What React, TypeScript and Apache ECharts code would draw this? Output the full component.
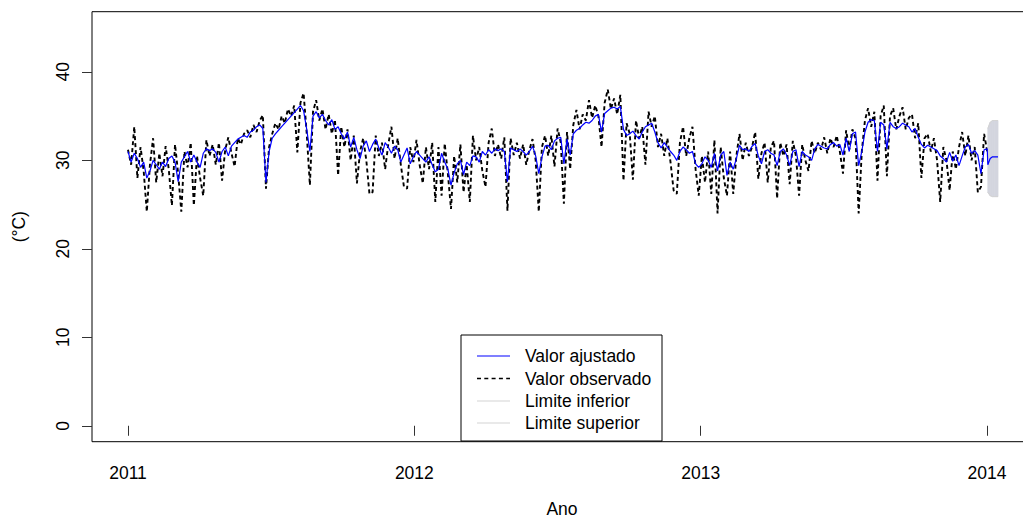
import React, { useEffect, useRef } from "react";
import * as echarts from "echarts";

// ---- data (4-day steps starting 2011-01-01) ----
const START_YEAR = 2011;
const STEP_DAYS = 4;
const yearTicks = [2011, 2012, 2013, 2014];
const yTicks = [0, 10, 20, 30, 40];

const fitted2011 = [
  31.0, 29.8, 30.8, 30.2, 29.2, 29.8, 28.0, 28.8, 30.0, 29.5, 29.0, 29.8, 29.3, 30.2, 30.5, 29.8, 27.6, 29.8, 30.4, 31.0, 29.8, 30.6, 29.8,
  29.2, 30.8, 31.3, 31.1, 31.3, 30.9, 29.8, 31.0, 31.5, 30.5, 31.6, 32.0, 32.4, 32.6, 32.8,
  32.6, 33.2, 33.4, 33.8, 34.0, 33.6,
  27.5, 31.0,
  32.5, 33.0, 33.4, 33.8, 34.2, 34.6, 35.0, 35.4, 35.8, 36.2, 35.6,
  33.5, 31.0, 35.0, 35.5,
  34.8, 35.2, 34.5, 34.0, 34.6, 33.5, 33.8, 33.0, 32.4, 33.2, 31.5, 32.6, 31.2, 30.2, 31.6,
  32.2, 31.0, 31.8, 32.4, 31.4, 30.6, 32.0, 31.5, 30.8, 31.6, 31.2, 29.8, 30.6, 31.4, 29.6, 30.4,
];
const fitted2012 = [
  31.0, 30.6, 30.2, 29.8, 30.4, 29.5, 28.7, 29.0, 30.8, 29.8, 29.0, 27.2, 28.6, 29.6, 30.0, 28.4, 29.8, 29.4,
  30.5, 30.4, 29.8, 31.0, 30.6, 31.2, 30.8, 31.3, 31.1, 31.3, 31.0, 27.6, 31.4, 31.2, 31.0, 31.3, 31.0, 30.6,
  31.0, 31.6, 30.5, 28.5, 30.4, 31.6, 31.7, 31.2, 32.2, 32.5, 32.6, 29.6, 32.4, 30.6, 33.0, 33.4, 33.6, 34.0,
  34.3, 34.2, 34.5, 35.0, 35.2, 33.2, 35.3, 35.6, 35.9, 36.0, 35.8, 36.1, 33.5, 32.8, 33.0, 33.3, 32.8, 32.4,
  33.2, 33.8, 34.0, 34.2, 33.2, 32.0, 31.4, 32.0, 31.5, 31.0, 30.6, 30.0, 31.0, 31.5, 31.2, 30.8, 31.0, 29.6,
  29.2, 29.6,
];
const fitted2013 = [
  30.4, 30.0, 29.2, 30.8, 28.8, 30.6, 31.0, 28.3, 29.8, 29.0, 30.2, 31.7, 31.2, 31.3, 31.0, 31.6, 31.9, 30.5,
  29.6, 31.0, 31.2, 30.8, 30.6, 29.4, 31.0, 31.3, 30.6, 29.4, 31.0, 31.2, 29.3, 31.0, 30.6, 30.4, 30.0, 31.3,
  31.8, 31.6, 31.4, 31.3, 31.8, 32.0, 31.6, 31.8, 30.6, 32.5, 31.0, 33.0, 33.2, 29.4, 31.0, 33.2, 34.3, 34.6,
  34.5, 31.0, 34.3, 34.0, 31.3, 34.3, 33.8, 33.6, 33.8, 34.2, 34.0, 33.8, 33.2, 33.6, 32.6, 31.8, 31.4, 31.7,
  31.5, 31.3, 31.1, 30.5, 30.2, 29.8, 30.9, 29.9, 30.6, 29.4, 30.5, 31.5, 31.8, 30.8, 31.1, 30.6, 28.5, 31.2,
  31.3,
];

const observed2011 = [
  31.2, 29.5, 33.8, 28.0, 31.5, 28.8, 24.2, 29.5, 32.5, 27.5, 30.8, 28.2, 31.6, 29.0, 24.9, 31.8, 28.5, 24.2,
  31.0, 29.2, 32.0, 24.9, 30.5, 28.0, 26.0, 32.3, 30.5, 31.8, 29.5, 32.0, 27.7, 31.2, 32.6, 30.8, 29.3, 32.5,
  31.8, 33.0, 33.4, 32.6, 34.0, 33.2, 34.5, 35.1, 26.8, 31.5, 33.0, 34.2, 33.5, 35.0, 34.2, 35.8, 35.0, 36.2,
  30.9, 36.5, 37.6, 33.0, 27.2, 35.5, 36.8, 34.5, 35.8, 33.5, 35.2, 33.0, 34.6, 28.3, 33.8, 31.5, 33.5, 30.0,
  32.8, 27.4, 31.0, 32.5, 30.0, 26.2, 26.4, 32.8, 30.5, 32.0, 29.0, 31.8, 33.8, 30.2, 32.5, 29.5, 27.0, 26.8,
  31.5, 29.8,
];
const observed2012 = [
  32.3, 29.5, 27.4, 31.5, 29.0, 32.0, 25.3, 31.5, 26.0, 31.9, 28.5, 24.5, 30.5, 27.5, 31.8, 26.4, 29.5, 25.3,
  32.8, 30.0, 31.5, 28.8, 27.0, 32.0, 33.6, 30.5, 31.8, 30.2, 32.6, 24.3, 32.5, 30.6, 32.0, 30.2, 31.8, 29.5,
  31.2, 32.4, 30.0, 24.2, 31.5, 32.8, 30.5, 32.8, 29.3, 33.6, 32.0, 25.1, 33.2, 29.0, 34.0, 35.7, 33.5, 35.2,
  34.5, 36.8, 34.8, 36.2, 35.0, 31.5, 36.5, 38.0, 35.8, 37.0, 35.2, 37.4, 27.7, 34.2, 33.0, 27.8, 34.5, 32.5,
  33.8, 29.5, 35.5, 33.8, 35.0, 31.5, 33.0, 30.5, 32.5, 29.8, 26.6, 26.2, 32.0, 33.8, 30.5, 32.5, 33.8, 29.0,
  26.0, 30.5,
];
const observed2013 = [
  27.5, 31.0, 26.2, 32.3, 24.0, 31.5, 28.0, 26.0, 31.0, 26.2, 30.5, 33.0, 30.0, 32.0, 30.5, 31.5, 33.2, 27.9,
  30.8, 32.0, 27.5, 31.5, 32.2, 25.7, 32.0, 30.5, 31.8, 27.3, 32.2, 30.5, 26.0, 31.8, 30.0, 28.8, 32.2, 30.8,
  32.0, 31.2, 32.6, 30.8, 32.5, 31.5, 32.8, 31.0, 28.5, 33.4, 31.2, 33.5, 32.5, 24.0, 31.0, 34.5, 35.9, 33.8,
  35.5, 27.7, 35.0, 36.2, 28.2, 35.0, 35.9, 33.5, 35.0, 36.0, 33.5, 34.8, 35.2, 32.5, 34.2, 28.0, 32.5, 33.0,
  31.0, 32.5, 30.0, 25.3, 31.5, 30.0, 26.6, 31.0, 29.0, 31.5, 33.2, 30.5, 32.8, 30.0, 31.5, 26.4, 27.0, 33.0,
  31.0,
];

// 15-day forecast (days after 2014-01-01)
const forecastDays = [1, 4, 7, 10, 14];
const forecastFit = [29.5, 30.2, 30.4, 30.4, 30.4];
const forecastLower = [26.4, 26.0, 25.9, 25.9, 25.9];
const forecastUpper = [33.6, 34.3, 34.5, 34.5, 34.5];

const legendLabels = ["Valor ajustado", "Valor observado", "Limite inferior", "Limite superior"];

const FONT = "'Liberation Sans', Arial, Helvetica, sans-serif";
const FS = 17.5;

export default function App() {
  const ref = useRef<HTMLDivElement>(null);

  useEffect(() => {
    if (!ref.current) return;
    const chart = echarts.init(ref.current, null, { renderer: "svg" });

    const toX = (i: number) => START_YEAR + (i * STEP_DAYS) / 365.25;
    const fitted = [...fitted2011, ...fitted2012, ...fitted2013];
    const observed = [...observed2011, ...observed2012, ...observed2013];
    const fX = forecastDays.map((d) => 2014 + d / 365.25);

    const obsData = observed.map((v, i) => [toX(i), v]);
    const fitData = fitted.map((v, i) => [toX(i), v]).concat(fX.map((x, i) => [x, forecastFit[i]]));
    const lowData = fX.map((x, i) => [x, forecastLower[i]]);
    const upData = fX.map((x, i) => [x, forecastUpper[i]]);
    const bandData = fX.map((x, i) => [x, forecastLower[i], forecastUpper[i]]);

    const legendX = 461, legendY = 335, legendW = 201, legendH = 106;
    const rowY = [356, 378.5, 401, 423];
    const legendStyles = [
      { stroke: "#0000ff", lineWidth: 1.2, lineDash: null as any },
      { stroke: "#000000", lineWidth: 1.3, lineDash: [4, 3.3] },
      { stroke: "#d3d3d3", lineWidth: 1.2, lineDash: null as any },
      { stroke: "#d3d3d3", lineWidth: 1.2, lineDash: null as any },
    ];
    const graphics: any[] = [
      {
        type: "rect",
        shape: { x: legendX, y: legendY, width: legendW, height: legendH },
        style: { fill: "#fff", stroke: "#000", lineWidth: 1 },
        z: 100,
      },
    ];
    legendLabels.forEach((lab, k) => {
      graphics.push({
        type: "line",
        shape: { x1: 477, y1: rowY[k], x2: 510, y2: rowY[k] },
        style: { stroke: legendStyles[k].stroke, lineWidth: legendStyles[k].lineWidth, lineDash: legendStyles[k].lineDash },
        z: 101,
      });
      graphics.push({
        type: "text",
        x: 525,
        y: rowY[k],
        style: { text: lab, fill: "#000", font: `${FS}px ${FONT}`, verticalAlign: "middle", align: "left" },
        z: 101,
      });
    });

    chart.setOption({
      animation: false,
      backgroundColor: "#fff",
      textStyle: { fontFamily: FONT },
      grid: {
        show: true,
        left: 92,
        right: 8,
        top: 11.7,
        bottom: 80.3,
        borderColor: "#000",
        borderWidth: 1,
        containLabel: false,
        outerBoundsMode: "none",
      },
      xAxis: {
        type: "value",
        min: 2010.8743,
        max: 2014.157,
        name: "Ano",
        nameLocation: "middle",
        nameGap: 58,
        nameTextStyle: { fontSize: FS, color: "#000", fontFamily: FONT },
        axisLine: { show: false },
        splitLine: { show: false },
        axisTick: { show: true, length: 10, customValues: yearTicks, lineStyle: { color: "#333" } },
        axisLabel: {
          customValues: yearTicks,
          fontSize: FS,
          color: "#000",
          margin: 22,
          fontFamily: FONT,
          formatter: (v: number) => String(Math.round(v)),
        },
      },
      yAxis: {
        type: "value",
        min: -1.8,
        max: 46.8,
        name: "(°C)",
        nameLocation: "middle",
        nameRotate: 90,
        nameGap: 64,
        nameTextStyle: { fontSize: FS, color: "#000", fontFamily: FONT },
        axisLine: { show: false },
        splitLine: { show: false },
        axisTick: { show: true, length: 10, customValues: yTicks, lineStyle: { color: "#333" } },
        axisLabel: {
          customValues: yTicks,
          rotate: 90,
          fontSize: FS,
          color: "#000",
          margin: 20,
          fontFamily: FONT,
          formatter: (v: number) => String(Math.round(v)),
        },
      },
      series: [
        {
          name: "Valor observado",
          type: "line",
          data: obsData,
          showSymbol: false,
          symbol: "none",
          lineStyle: { color: "#000", width: 1.9, type: [4, 3] },
          z: 2,
          silent: true,
        },
        {
          name: "band",
          type: "custom",
          data: bandData,
          z: 3,
          silent: true,
          renderItem: (params: any, api: any) => {
            const i = params.dataIndex;
            if (i >= bandData.length - 1) return null;
            const a = bandData[i], b = bandData[i + 1];
            const p1 = api.coord([a[0], a[1]]);
            const p2 = api.coord([b[0], b[1]]);
            const p3 = api.coord([b[0], b[2]]);
            const p4 = api.coord([a[0], a[2]]);
            return {
              type: "polygon",
              shape: { points: [p1, p2, p3, p4] },
              style: { fill: "#d3d5de", stroke: "#d3d5de", lineWidth: 0.8 },
            };
          },
        },
        {
          name: "Limite inferior",
          type: "line",
          data: lowData,
          showSymbol: false,
          symbol: "none",
          lineStyle: { color: "#d3d3d3", width: 1 },
          z: 3,
          silent: true,
        },
        {
          name: "Limite superior",
          type: "line",
          data: upData,
          showSymbol: false,
          symbol: "none",
          lineStyle: { color: "#d3d3d3", width: 1 },
          z: 3,
          silent: true,
        },
        {
          name: "Valor ajustado",
          type: "line",
          data: fitData,
          showSymbol: false,
          symbol: "none",
          lineStyle: { color: "#0000ff", width: 1.2 },
          z: 4,
          silent: true,
        },
      ],
      graphic: graphics,
    });

    return () => chart.dispose();
  }, []);

  return (
    <div
      ref={ref}
      style={{ position: "fixed", left: 0, top: 0, width: 1040, height: 522, background: "#fff" }}
    />
  );
}
